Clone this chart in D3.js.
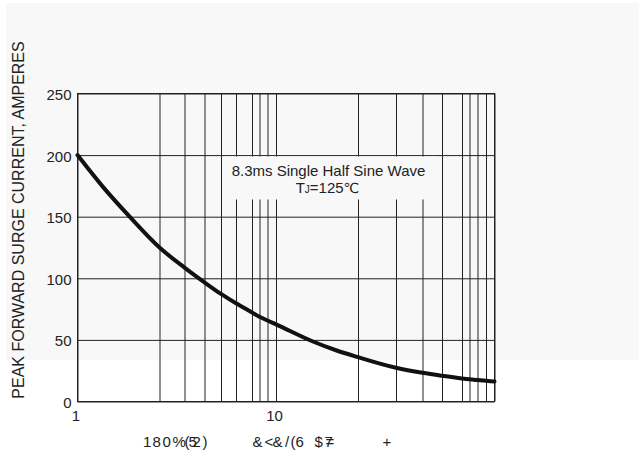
<!DOCTYPE html>
<html>
<head>
<meta charset="utf-8">
<script src="https://cdn.jsdelivr.net/npm/d3@7"></script>
<style>
  body { margin: 0; background: #fff; }
  svg { display: block; font-family: "Liberation Sans", Arial, sans-serif; }
</style>
</head>
<body>
<figure id="surge" style="margin:0"></figure>
<script>
// surge curve
const cycles = [1, 1.3, 1.65, 2, 3, 4, 5, 6, 7, 8, 9, 10, 14.5, 17.4, 20, 30, 40, 50, 60, 70, 80, 90, 100];
const amps = [200, 175, 149, 125, 108.7, 96.7, 87.3, 79.7, 72.3, 68.8, 65.7, 62.6, 48.7, 41.4, 36, 27.4, 23.3, 20.9, 18.7, 18.0, 17.4, 16.8, 16.2];

// grid / ticks
const xGrid = [1, 2, 3, 4, 5, 6, 7, 8, 9, 10, 20, 30, 40, 50, 60, 70, 80, 90, 100];
const xLabelled = [1, 10];
const yTicks = [0, 50, 100, 150, 200, 250];

const yTitle = 'PEAK FORWARD SURGE CURRENT, AMPERES';
const xTitleChars = ['1', '8', '0', '%', '(', '5', '2', ')', '&', '<', '&', '/', '(', '6', '$', '7', '=', '+'];
const noteLine1 = '8.3ms Single Half Sine Wave';

const margin = { top: 93.5, left: 77.5 };
const width = 417;
const height = 308;

const svg = d3
  .select('figure#surge')
  .append('svg')
  .attr('width', 639)
  .attr('height', 456);

// light grey sheet behind the upper part
svg.append('rect')
  .attr('x', 6).attr('y', 3)
  .attr('width', 633).attr('height', 357)
  .attr('fill', '#f8f8f8');

const g = svg.append('g')
  .attr('transform', 'translate(' + margin.left + ',' + margin.top + ')');

// the printed log grid is not evenly drawn, so map each grid value to where it sits
const x = d3.scaleLinear()
  .domain(xGrid)
  .range([0, 82, 107, 127, 143.5, 158.5, 174.5, 182, 190, 198.5, 280.5, 318.5, 345, 364.5, 384.5, 392, 400, 408.5, 417]);

const y = d3.scaleLinear().domain([0, 250]).range([height, 0]);

// vertical grid + x labels
const xAxis = g.append('g')
  .attr('transform', 'translate(0,' + height + ')')
  .call(d3.axisBottom(x)
    .tickValues(xGrid)
    .tickSize(-height)
    .tickPadding(9)
    .tickFormat((d) => (xLabelled.includes(d) ? d : '')));
xAxis.select('.domain').remove();
xAxis.selectAll('line').attr('stroke', '#222');
xAxis.selectAll('text')
  .attr('font-size', 15)
  .attr('font-family', '"Liberation Sans", Arial, sans-serif')
  .attr('fill', '#222')
  .attr('dx', -2);

// horizontal grid + y labels
const yAxis = g.append('g')
  .call(d3.axisLeft(y)
    .tickValues(yTicks)
    .tickSize(-width)
    .tickPadding(6));
yAxis.select('.domain').remove();
yAxis.selectAll('line').attr('stroke', '#222');
yAxis.selectAll('text')
  .attr('font-size', 15)
  .attr('font-family', '"Liberation Sans", Arial, sans-serif')
  .attr('fill', '#222')
  .attr('dy', '0.4em');

// frame
g.append('rect')
  .attr('width', width)
  .attr('height', height)
  .attr('fill', 'none')
  .attr('stroke', '#222');

// note box cuts the grid
g.append('rect')
  .attr('x', 148).attr('y', 63)
  .attr('width', 211).attr('height', 43)
  .attr('fill', '#f8f8f8');

g.append('text')
  .attr('x', 251).attr('y', 82)
  .attr('text-anchor', 'middle')
  .attr('font-size', 15)
  .attr('fill', '#222')
  .text(noteLine1);

const tj = g.append('text')
  .attr('x', 250).attr('y', 99.5)
  .attr('text-anchor', 'middle')
  .attr('font-size', 15)
  .attr('fill', '#222');
tj.append('tspan').text('T');
tj.append('tspan').attr('font-size', 10).text('J');
tj.append('tspan').text('=125');
tj.append('tspan').attr('font-family', '"DejaVu Sans", sans-serif').attr('font-size', 14).text('\u2103');

// the curve
const line = d3.line()
  .x((d, i) => x(cycles[i]))
  .y((d) => y(d))
  .curve(d3.curveMonotoneX);

g.append('path')
  .datum(amps)
  .attr('d', line)
  .attr('fill', 'none')
  .attr('stroke', '#111')
  .attr('stroke-width', 4)
  .attr('stroke-linecap', 'round');

// axis titles
svg.append('text')
  .attr('transform', 'translate(23.5,220)rotate(-90)')
  .attr('text-anchor', 'middle')
  .attr('font-size', 16)
  .attr('fill', '#222')
  .text(yTitle);

// x title as printed (glyphs placed one by one)
svg.append('text')
  .attr('x', [143, 152.5, 162.5, 172.5, 184.5, 188.5, 192.5, 202.5, 252.5, 264.5, 272.5, 285, 290.5, 295.5, 314.5, 324.5, 325.5, 382.5].join(' '))
  .attr('y', 447)
  .attr('font-size', 15)
  .attr('fill', '#222')
  .text(xTitleChars.join(''));
</script>
</body>
</html>
